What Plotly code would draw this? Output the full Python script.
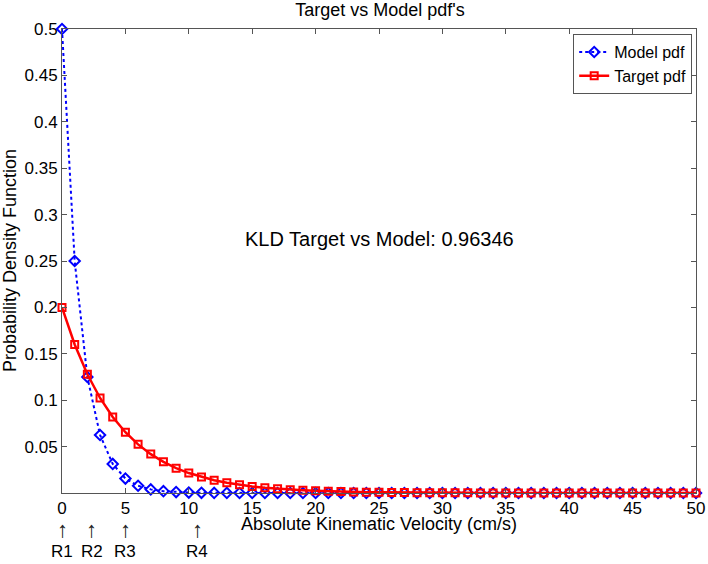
import plotly.graph_objects as go

velocity = list(range(51))
model_pdf = [0.5, 0.25, 0.125, 0.0625, 0.0313, 0.0156, 0.0078, 0.0039, 0.002, 0.001,
             0.0005, 0.0002, 0.0001, 0.0001] + [0.0] * 37
target_pdf = [0.2, 0.16, 0.128, 0.1024, 0.0819, 0.0655, 0.0524, 0.0419, 0.0336, 0.0268,
              0.0215, 0.0172, 0.0137, 0.0110, 0.0088, 0.0070, 0.0056, 0.0045, 0.0036, 0.0029,
              0.0023, 0.0018, 0.0015, 0.0012, 0.0009, 0.0008, 0.0006, 0.0005, 0.0004, 0.0003,
              0.0002, 0.0002, 0.0002, 0.0001, 0.0001, 0.0001] + [0.0] * 15
region_labels = ["R1", "R2", "R3", "R4"]
region_x = [0, 2.35, 5, 10.65]
x_ticks = list(range(0, 51, 5))
y_ticks = [0.05, 0.1, 0.15, 0.2, 0.25, 0.3, 0.35, 0.4, 0.45, 0.5]
kld_text = "KLD Target vs Model: 0.96346"
x_title = "Absolute Kinematic Velocity (cm/s)"
y_title = "Probability Density Function"
chart_title = "Target vs Model pdf's"

FONT = "Liberation Sans, Arial, sans-serif"
AX = "#555555"

fig = go.Figure()
fig.add_trace(go.Scatter(
    x=velocity, y=model_pdf, name="Model pdf", mode="lines+markers",
    line=dict(color="#0000ff", width=2, dash="dot"),
    marker=dict(symbol="diamond-open", size=8, color="#0000ff", line=dict(width=2)),
    cliponaxis=False))
fig.add_trace(go.Scatter(
    x=velocity, y=target_pdf, name="Target pdf", mode="lines+markers",
    line=dict(color="#ff0000", width=2.5),
    marker=dict(symbol="square-open", size=7, color="#ff0000", line=dict(width=2)),
    cliponaxis=False))

annotations = [dict(x=25, y=0.274, xref="x", yref="y", text=kld_text, showarrow=False,
                    font=dict(size=20, color="black", family=FONT))]
for lab, xv in zip(region_labels, region_x):
    annotations.append(dict(x=xv, y=0, xref="x", yref="paper", text="↑", showarrow=False,
                            yanchor="middle", yshift=-36,
                            font=dict(size=22, color="#222222", family=FONT)))
    annotations.append(dict(x=xv, y=0, xref="x", yref="paper", text=lab, showarrow=False,
                            yanchor="middle", yshift=-58,
                            font=dict(size=17, color="black", family=FONT)))
annotations.append(dict(x=-52 / 634, y=0.5, xref="paper", yref="paper", xanchor="center",
                        yanchor="middle", text=y_title, textangle=-90, showarrow=False,
                        font=dict(size=18, color="black", family=FONT)))
annotations.append(dict(x=25, y=0, xref="x", yref="paper", text=x_title, showarrow=False,
                        yanchor="middle", yshift=-31,
                        font=dict(size=18, color="black", family=FONT)))

fig.update_layout(
    width=708, height=564,
    margin=dict(l=62, r=12, t=29, b=71),
    paper_bgcolor="white", plot_bgcolor="white",
    font=dict(family=FONT, color="black", size=17),
    title=dict(text=chart_title, x=380 / 708, xanchor="center",
               y=1 - 10 / 564, yanchor="middle", font=dict(size=18, color="black")),
    showlegend=True,
    legend=dict(x=0.994, y=0.989, xanchor="right", yanchor="top",
                bgcolor="white", bordercolor=AX, borderwidth=1,
                font=dict(size=16, color="black"), tracegroupgap=0,
                itemwidth=30),
    annotations=annotations,
)
fig.update_xaxes(range=[0, 50], tickvals=x_ticks, ticks="inside", ticklen=5,
                 tickcolor=AX, showline=True, linecolor=AX, linewidth=1, mirror="ticks",
                 showgrid=False, zeroline=False, tickfont=dict(size=17), automargin=False)
fig.update_yaxes(range=[0, 0.5], tickvals=y_ticks, ticktext=[f"{v:g}" for v in y_ticks],
                 ticks="inside", ticklen=5,
                 tickcolor=AX, showline=True, linecolor=AX, linewidth=1, mirror="ticks",
                 showgrid=False, zeroline=False, tickfont=dict(size=17), automargin=False)

fig.write_html("out.html", config={"displayModeBar": False},
               post_script="document.body.style.margin='0';document.body.style.overflow='hidden';")
